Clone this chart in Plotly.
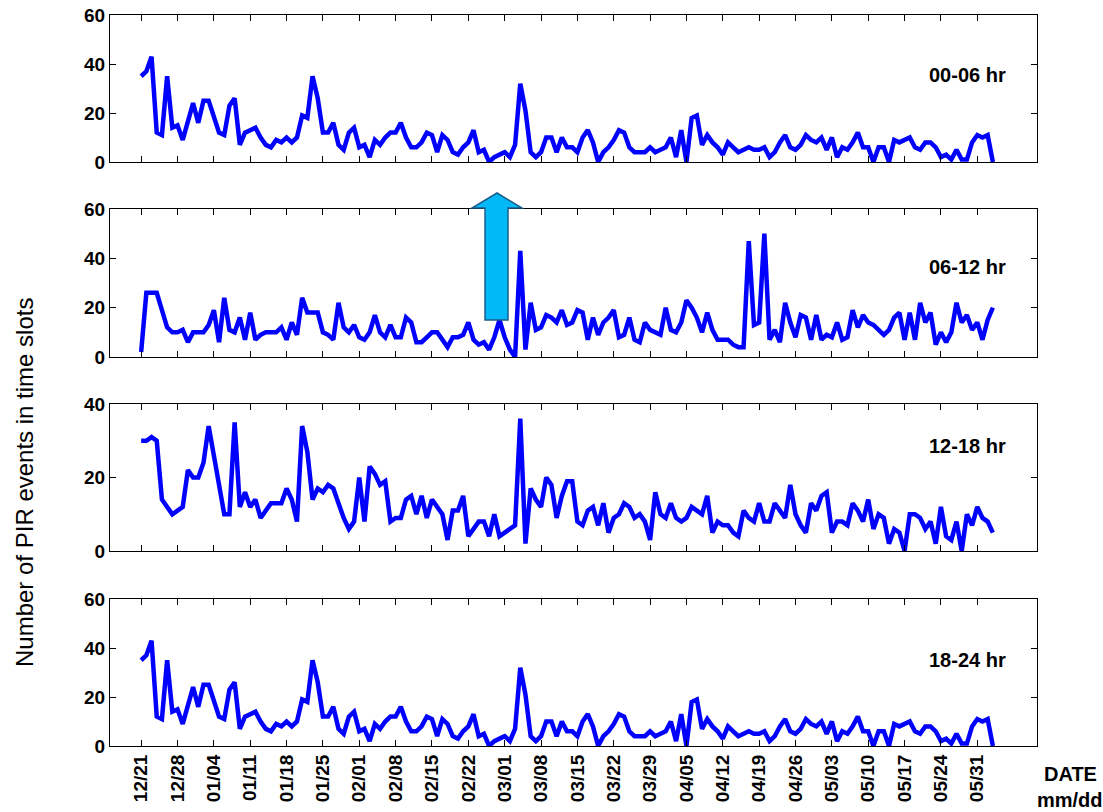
import datetime as dt
import plotly.graph_objects as go
from plotly.subplots import make_subplots

# ---------------- data ----------------
start_date = "2014-12-21"
n_days = 165
dates = [dt.date(2014, 12, 21) + dt.timedelta(days=i) for i in range(n_days)]
tick_dates = [dt.date(2014, 12, 21) + dt.timedelta(days=7 * k) for k in range(24)]
tick_labels = [d.strftime("%m/%d") for d in tick_dates]

counts_00_06 = [
    35, 37, 43, 12, 11, 35, 14, 15, 9, 17,
    24, 16, 25, 25, 19, 12, 11, 23, 26, 7,
    12, 13, 14, 10, 7, 6, 9, 8, 10, 8,
    10, 19, 18, 35, 26, 12, 12, 16, 7, 5,
    12, 14, 6, 7, 2, 9, 7, 10, 12, 12,
    16, 10, 6, 6, 8,
    12, 11, 4, 11, 9,
    4, 3, 6, 8, 13, 4, 5, 0, 2, 3,
    4, 2, 7, 32, 21, 4, 2, 4, 10, 10,
    4, 10, 6, 6, 4, 10, 13, 8, 0, 4,
    6, 9, 13, 12, 6, 4, 4, 4, 6, 4,
    5, 6, 10, 2, 13, 0, 18, 19, 7, 11,
    8, 6, 3, 8, 6, 4, 5, 6, 5, 5,
    6, 2, 4, 8, 11, 6, 5, 7, 11, 9,
    8, 10, 5, 10, 2, 6, 5, 8, 12, 6,
    6, 0, 6, 6, 0, 9, 8, 9, 10, 6,
    5, 8, 8, 6, 2, 3, 1, 5, 1, 1,
    8, 11, 10, 11, 0,
]

counts_06_12 = [
    2, 26, 26, 26, 19, 12, 10, 10, 11, 6,
    10, 10, 10, 13, 19, 6, 24, 11, 10, 16,
    7, 18, 7, 9, 10, 10, 10, 12, 7, 14,
    9, 24, 18, 18, 18, 10, 9, 7, 22, 12,
    10, 13, 8, 7, 10, 17, 10, 8, 13, 8,
    8, 16, 14, 6, 6, 8, 10, 10, 7, 4,
    8, 8, 9, 14, 7, 5, 6, 3, 8, 15,
    8, 3, 0, 43, 3, 22, 11, 12, 17, 16,
    14, 19, 13, 14, 19, 18, 7, 16, 9, 14,
    16, 19, 8, 9, 16, 7, 6, 14, 11, 10,
    9, 20, 11, 10, 14, 23, 20, 16, 10, 18,
    11, 7, 7, 7, 5, 4, 4, 47, 13, 14,
    50, 7, 11, 6, 22, 14, 8, 17, 16, 7,
    17, 7, 9, 8, 14, 7, 8, 19, 12, 17,
    14, 13, 11, 9, 11, 16, 18, 7, 18, 7,
    22, 14, 18, 5, 10, 6, 10, 22, 14, 17,
    11, 14, 7, 15, 20,
]

counts_12_18 = [
    30, 30, 31, 30, 14, 12, 10, 11, 12, 22,
    20, 20, 24, 34, 26, 18, 10, 10, 35, 12,
    16, 12, 14, 9, 11, 13, 13, 13, 17, 14,
    8, 34, 27, 14, 17, 16, 18, 17, 13, 9,
    6, 8, 20, 8, 23, 21, 18, 19, 8, 9,
    9, 14, 15, 10, 15, 9, 14, 12, 10, 3,
    11, 11, 15, 4, 6, 8, 8, 4, 10, 4,
    5, 6, 7, 36, 2, 17, 14, 12, 20, 18,
    9, 15, 19, 19, 8, 7, 11, 12, 7, 13,
    5, 9, 10, 13, 12, 9, 10, 8, 3, 16,
    10, 9, 13, 9, 8, 9, 12, 11, 10, 15,
    5, 8, 7, 7, 5, 4, 11, 9, 8, 13,
    8, 8, 13, 11, 9, 18, 10, 7, 5, 13,
    11, 15, 16, 5, 8, 8, 7, 13, 11, 8,
    14, 6, 10, 9, 2, 6, 5, 0, 10, 10,
    9, 6, 8, 2, 12, 4, 3, 8, 0, 10,
    7, 12, 9, 8, 5,
]

counts_18_24 = list(counts_00_06)

series = [counts_00_06, counts_06_12, counts_12_18, counts_18_24]
panel_labels = ["00-06 hr", "06-12 hr", "12-18 hr", "18-24 hr"]
y_ranges = [[0, 60], [0, 60], [0, 40], [0, 60]]
y_title = "Number of PIR events in time slots"

# ---------------- layout geometry (pixels) ----------------
W, H = 1103, 812
L, R, T, B = 110, 1037, 15, 746
panel_px = [(15, 162), (209, 357), (404, 551), (599, 746)]


def pxx(x):
    return (x - L) / (R - L)


def pxy(y):
    return (B - y) / (B - T)


fig = make_subplots(rows=4, cols=1, shared_xaxes=True, vertical_spacing=0.02)

for i, s in enumerate(series):
    fig.add_trace(
        go.Scatter(x=dates, y=s, mode="lines",
                   line=dict(color="#0000FF", width=4.5), hoverinfo="skip"),
        row=i + 1, col=1,
    )

FONT = "Liberation Sans, Arial, sans-serif"
tickfont = dict(family=FONT, size=19, color="black", weight="bold")

for i in range(4):
    top, bot = panel_px[i]
    yname = "yaxis" if i == 0 else f"yaxis{i+1}"
    xname = "xaxis" if i == 0 else f"xaxis{i+1}"
    fig.layout[yname].update(
        domain=[pxy(bot), pxy(top)], range=y_ranges[i], dtick=20, tick0=0,
        ticks="inside", ticklen=6, tickcolor="black", showline=True,
        linecolor="black", linewidth=1, mirror="ticks", showgrid=False,
        zeroline=False, tickfont=tickfont, automargin=False,
    )
    fig.layout[xname].update(
        type="date", range=["2014-12-15", "2015-06-11 12:00"],
        tickmode="array", tickvals=tick_dates, ticktext=tick_labels,
        tickangle=-90, ticks="inside", ticklen=6, tickcolor="black",
        showline=True, linecolor="black", linewidth=1, mirror="ticks",
        showgrid=False, zeroline=False, tickfont=tickfont,
        showticklabels=(i == 3), automargin=False,
    )

annotations = []
label_y = [75.5, 267, 446, 660]
for lab, ly in zip(panel_labels, label_y):
    annotations.append(dict(x=pxx(967), y=pxy(ly), xref="paper", yref="paper",
                            xanchor="center", yanchor="middle",
                            text=lab, showarrow=False,
                            font=dict(family=FONT, size=20, color="black", weight="bold")))
annotations.append(dict(x=pxx(25), y=pxy(483), xref="paper", yref="paper",
                        xanchor="center", yanchor="middle",
                        text=y_title, textangle=-90, showarrow=False,
                        font=dict(family=FONT, size=24, color="black")))
annotations.append(dict(x=pxx(1070), y=pxy(774), xref="paper", yref="paper",
                        xanchor="center", yanchor="middle",
                        text="DATE", showarrow=False,
                        font=dict(family=FONT, size=20, color="black", weight="bold")))
annotations.append(dict(x=pxx(1070), y=pxy(800), xref="paper", yref="paper",
                        xanchor="center", yanchor="middle",
                        text="mm/dd", showarrow=False,
                        font=dict(family=FONT, size=20, color="black", weight="bold")))

# block arrow (decoration)
pts = [(485, 320), (485, 208), (472, 208), (497, 193), (522, 208), (508, 208), (508, 320)]
path = "M " + " L ".join(f"{pxx(x):.5f},{pxy(y):.5f}" for x, y in pts) + " Z"
shapes = [dict(type="path", xref="paper", yref="paper", path=path,
               fillcolor="#00B9F6", line=dict(color="#1B5E8C", width=1.5))]

fig.update_layout(
    width=W, height=H,
    margin=dict(l=L, r=W - R, t=T, b=H - B, autoexpand=False),
    plot_bgcolor="white", paper_bgcolor="white", showlegend=False,
    annotations=annotations, shapes=shapes,
    font=dict(family=FONT, color="black"),
)

fig.write_html("out.html")
